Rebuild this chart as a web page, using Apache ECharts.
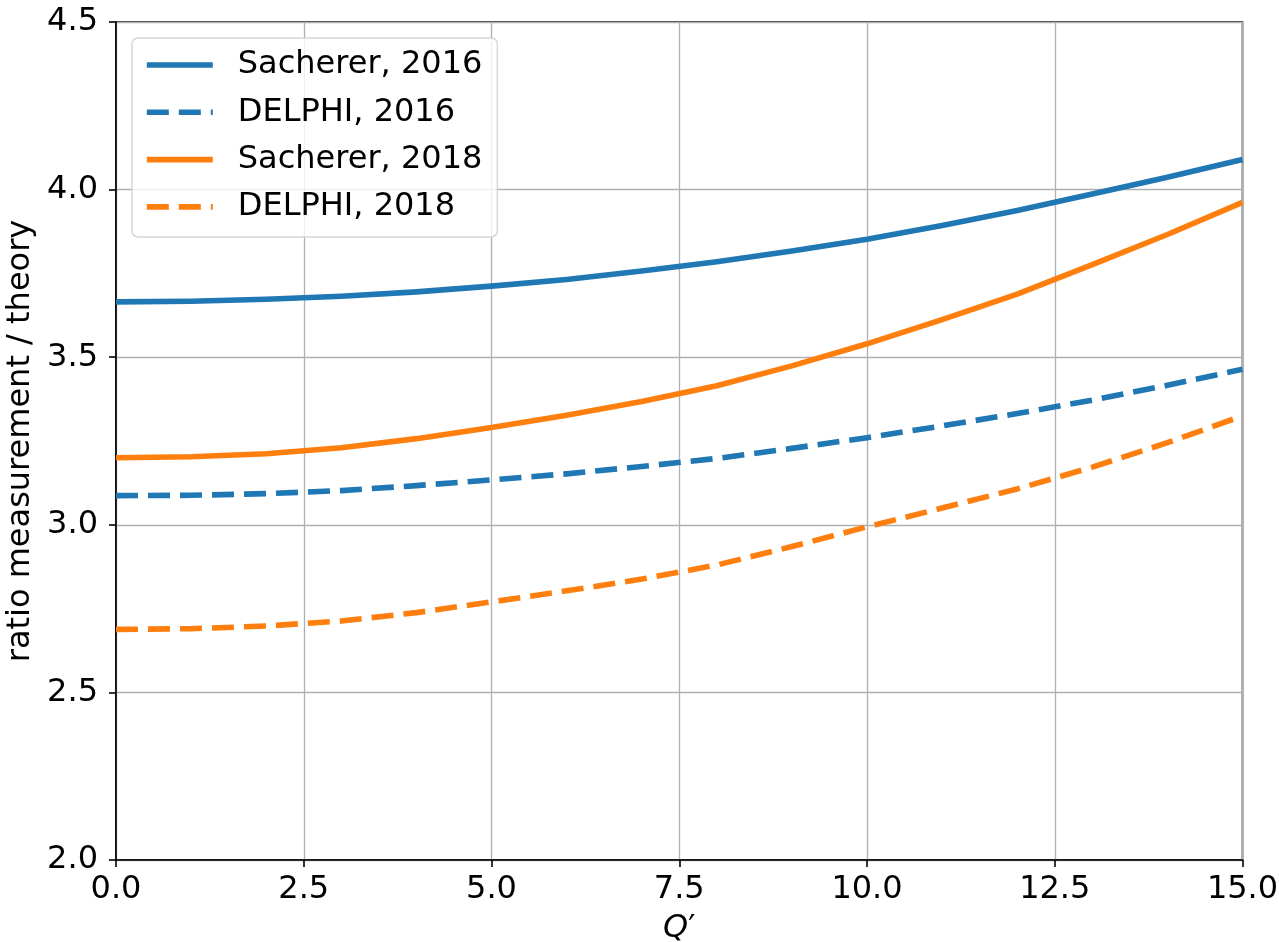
<!DOCTYPE html>
<html>
<head>
<meta charset="utf-8">
<script src="https://cdn.jsdelivr.net/npm/echarts@6/dist/echarts.min.js"></script>
<style>
  html, body { margin: 0; padding: 0; background: #ffffff; }
  #chart { width: 1279px; height: 942px; }
</style>
</head>
<body>
<div id="chart"></div>
<script>
// Q' values (x axis)
const qPrime = [0, 1, 2, 3, 4, 5, 6, 7, 8, 9, 10, 11, 12, 13, 14, 15];

const sacherer2016 = [3.665, 3.667, 3.673, 3.682, 3.695, 3.712, 3.732, 3.757, 3.785, 3.817, 3.852, 3.893, 3.938, 3.987, 4.037, 4.090];
const delphi2016   = [3.087, 3.088, 3.093, 3.102, 3.117, 3.134, 3.152, 3.174, 3.198, 3.228, 3.260, 3.295, 3.332, 3.372, 3.416, 3.464];
const sacherer2018 = [3.200, 3.203, 3.212, 3.230, 3.257, 3.290, 3.327, 3.368, 3.415, 3.474, 3.540, 3.612, 3.688, 3.776, 3.866, 3.962];
const delphi2018   = [2.688, 2.690, 2.698, 2.713, 2.738, 2.770, 2.803, 2.838, 2.880, 2.935, 2.994, 3.050, 3.107, 3.172, 3.245, 3.325];

const seriesNames = ['Sacherer, 2016', 'DELPHI, 2016', 'Sacherer, 2018', 'DELPHI, 2018'];

const BLUE = '#1f77b4';
const ORANGE = '#ff7f0e';
const FONT = 'DejaVu Sans';
const DASH = [22, 10];

function pairs(ys) { return qPrime.map((x, i) => [x, ys[i]]); }

function mkSeries(name, ys, color, dashed) {
  return {
    name: name,
    type: 'line',
    data: pairs(ys),
    showSymbol: false,
    symbol: 'none',
    smooth: false,
    clip: true,
    animation: false,
    lineStyle: { color: color, width: 5.6, type: dashed ? DASH : 'solid', cap: 'butt', join: 'round' },
    itemStyle: { color: color }
  };
}

const chart = echarts.init(document.getElementById('chart'), null, { renderer: 'canvas' });
chart.setOption({
  backgroundColor: '#ffffff',
  animation: false,
  textStyle: { fontFamily: FONT },
  grid: {
    left: 116, right: 36.5, top: 22, bottom: 82,
    containLabel: false,
    outerBoundsMode: 'none',
    show: true, borderColor: '#000000', borderWidth: 1.6, backgroundColor: 'transparent'
  },
  legend: {
    orient: 'vertical',
    left: 132, top: 38,
    padding: [9, 15, 12, 12],
    itemGap: 11.3,
    itemWidth: 66,
    itemHeight: 14,
    backgroundColor: 'rgba(255,255,255,0.8)',
    borderColor: 'rgba(204,204,204,0.8)',
    borderWidth: 1.5,
    borderRadius: 6,
    lineStyle: { width: 5.6 },
    itemStyle: { color: 'rgba(0,0,0,0)', borderWidth: 0, opacity: 0 },
    textStyle: { fontFamily: FONT, fontSize: 32, color: '#000000', lineHeight: 36, padding: [0, 0, 0, 20] },
    data: seriesNames
  },
  xAxis: {
    type: 'value',
    min: 0, max: 15, interval: 2.5,
    name: '{q|Q}{p|\u2032}',
    nameLocation: 'middle',
    nameGap: 53,
    nameTextStyle: {
      fontFamily: FONT, fontSize: 32, color: '#000000',
      rich: {
        q: { fontFamily: FONT, fontSize: 32, fontStyle: 'italic', color: '#000000' },
        p: { fontFamily: FONT, fontSize: 32, color: '#000000' }
      }
    },
    axisLine: { show: true, lineStyle: { color: '#000000', width: 1.6 } },
    axisTick: { show: true, inside: false, length: 7, lineStyle: { color: '#000000', width: 1.6 } },
    axisLabel: { margin: 14, fontFamily: FONT, fontSize: 32, color: '#000000', formatter: v => v.toFixed(1) },
    splitLine: { show: true, lineStyle: { color: '#b0b0b0', width: 1.3 } }
  },
  yAxis: {
    type: 'value',
    min: 2, max: 4.5, interval: 0.5,
    name: 'ratio measurement / theory',
    nameLocation: 'middle',
    nameGap: 66,
    nameTextStyle: { fontFamily: FONT, fontSize: 32, color: '#000000' },
    axisLine: { show: true, lineStyle: { color: '#000000', width: 1.6 } },
    axisTick: { show: true, inside: false, length: 7, lineStyle: { color: '#000000', width: 1.6 } },
    axisLabel: { margin: 18, fontFamily: FONT, fontSize: 32, color: '#000000', formatter: v => v.toFixed(1) },
    splitLine: { show: true, lineStyle: { color: '#b0b0b0', width: 1.3 } }
  },
  series: [
    mkSeries(seriesNames[0], sacherer2016, BLUE, false),
    mkSeries(seriesNames[1], delphi2016, BLUE, true),
    mkSeries(seriesNames[2], sacherer2018, ORANGE, false),
    mkSeries(seriesNames[3], delphi2018, ORANGE, true)
  ]
});
</script>
</body>
</html>
